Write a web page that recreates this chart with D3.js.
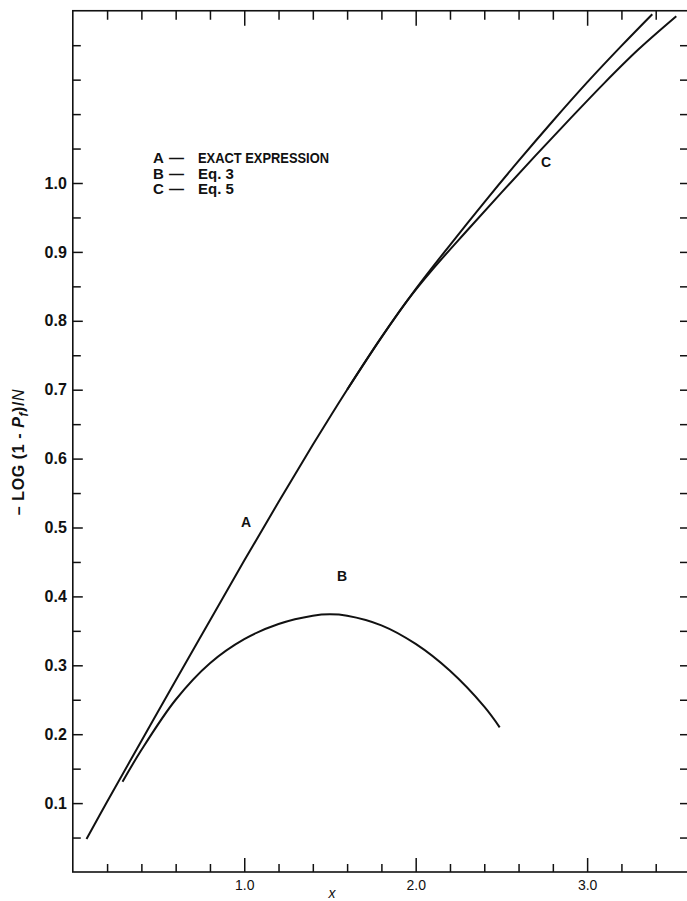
<!DOCTYPE html>
<html>
<head>
<meta charset="utf-8">
<script src="https://cdn.jsdelivr.net/npm/d3@7"></script>
<style>
  html, body { margin: 0; padding: 0; background: #fff; }
  svg { display: block; font-family: "Liberation Sans", Arial, sans-serif; }
</style>
</head>
<body>
<svg id="chart"></svg>
<script>
// curve A - exact expression
const xA = [0.08, 0.2, 0.4, 0.6, 0.8, 1.0, 1.2, 1.4, 1.6, 1.8, 2.0, 2.2, 2.4, 2.6, 2.8, 3.0, 3.2, 3.38];
const yA = [0.048, 0.102, 0.190, 0.278, 0.365, 0.452, 0.537, 0.620, 0.700, 0.776, 0.846, 0.910, 0.972, 1.032, 1.090, 1.146, 1.199, 1.245];

// curve B - Eq. 3
const xB = [0.29, 0.4, 0.6, 0.8, 1.0, 1.2, 1.4, 1.5, 1.6, 1.8, 2.0, 2.2, 2.4, 2.49];
const yB = [0.131, 0.177, 0.250, 0.303, 0.338, 0.360, 0.372, 0.374, 0.372, 0.358, 0.331, 0.292, 0.240, 0.210];

// curve C - Eq. 5 (runs on top of A below x = 2)
const xC = [1.6, 1.8, 1.95, 2.1, 2.3, 2.5, 2.7, 2.9, 3.1, 3.3, 3.52];
const yC = [0.700, 0.776, 0.829, 0.875, 0.931, 0.986, 1.040, 1.093, 1.145, 1.194, 1.242];

const xMajorTicks = [1.0, 2.0, 3.0];
const xMinorTicks = [0.2, 0.4, 0.6, 0.8, 1.2, 1.4, 1.6, 1.8, 2.2, 2.4, 2.6, 2.8, 3.2, 3.4];
const yLabelTicks = [0.1, 0.2, 0.3, 0.4, 0.5, 0.6, 0.7, 0.8, 0.9, 1.0];
const yMinorTicks = [0.05, 0.15, 0.25, 0.35, 0.45, 0.55, 0.65, 0.75, 0.85, 0.95, 1.05, 1.1, 1.15, 1.2];

const legendLines = [
  { key: "A", text: "EXACT EXPRESSION" },
  { key: "B", text: "Eq. 3" },
  { key: "C", text: "Eq. 5" },
];

const curveLabels = [
  { name: "A", x: 1.01, y: 0.508 },
  { name: "B", x: 1.57, y: 0.43 },
  { name: "C", x: 2.76, y: 1.03 },
];

const width = 687;
const height = 901;
const margin = { top: 10.75, right: -3, bottom: 29, left: 72.8 };

const svg = d3.select("#chart").attr("width", width).attr("height", height);

const x = d3.scaleLinear()
  .domain([0, 3.6])
  .range([margin.left, width - margin.right]);

const y = d3.scaleLinear()
  .domain([0, 1.25])
  .range([height - margin.bottom, margin.top]);

const x0 = x.range()[0], x1 = x.range()[1];
const y0 = y.range()[0], y1 = y.range()[1];

// frame
svg.append("rect")
  .attr("x", x0).attr("y", y1)
  .attr("width", x1 - x0).attr("height", y0 - y1)
  .attr("fill", "none")
  .attr("stroke", "#111")
  .attr("stroke-width", 1.6);

function tickStyle(g) {
  g.select(".domain").remove();
  g.selectAll(".tick line").attr("stroke", "#111").attr("stroke-width", 1.5);
}

// bottom axis
svg.append("g")
  .attr("transform", `translate(0,${y0})`)
  .call(d3.axisTop(x).tickValues(xMinorTicks).tickSize(8).tickFormat(""))
  .call(tickStyle);

svg.append("g")
  .attr("transform", `translate(0,${y0})`)
  .call(d3.axisBottom(x).tickValues(xMajorTicks).tickSize(0).tickPadding(8).tickFormat(d3.format(".1f")))
  .call(tickStyle)
  .selectAll("text")
  .attr("font-size", 14)
  .attr("fill", "#111");

svg.append("g")
  .attr("transform", `translate(0,${y0})`)
  .call(d3.axisTop(x).tickValues(xMajorTicks).tickSize(14).tickFormat(""))
  .call(tickStyle);

// top axis
svg.append("g")
  .attr("transform", `translate(0,${y1})`)
  .call(d3.axisBottom(x).tickValues(xMinorTicks).tickSize(9).tickFormat(""))
  .call(tickStyle);

svg.append("g")
  .attr("transform", `translate(0,${y1})`)
  .call(d3.axisBottom(x).tickValues(xMajorTicks).tickSize(15).tickFormat(""))
  .call(tickStyle);

// left axis
svg.append("g")
  .attr("transform", `translate(${x0},0)`)
  .call(d3.axisRight(y).tickValues(yMinorTicks).tickSize(8).tickFormat(""))
  .call(tickStyle);

svg.append("g")
  .attr("transform", `translate(${x0},0)`)
  .call(d3.axisRight(y).tickValues(yLabelTicks).tickSize(10).tickFormat(""))
  .call(tickStyle);

svg.append("g")
  .attr("transform", `translate(${x0},0)`)
  .call(d3.axisLeft(y).tickValues(yLabelTicks).tickSize(0).tickPadding(6).tickFormat(d3.format(".1f")))
  .call(tickStyle)
  .selectAll("text")
  .attr("font-size", 16)
  .attr("font-weight", "bold")
  .attr("fill", "#111");

// right axis
svg.append("g")
  .attr("transform", `translate(${x1},0)`)
  .call(d3.axisLeft(y).tickValues(yMinorTicks.concat(yLabelTicks)).tickSize(10).tickFormat(""))
  .call(tickStyle);

// curves
const line = d3.line()
  .x(d => x(d[0]))
  .y(d => y(d[1]))
  .curve(d3.curveCatmullRom.alpha(0.5));

const series = [
  d3.zip(xA, yA),
  d3.zip(xB, yB),
  d3.zip(xC, yC),
];

svg.append("g")
  .selectAll("path")
  .data(series)
  .join("path")
  .attr("d", line)
  .attr("fill", "none")
  .attr("stroke", "#111")
  .attr("stroke-width", 2)
  .attr("stroke-linejoin", "round");

// curve labels
svg.append("g")
  .selectAll("text")
  .data(curveLabels)
  .join("text")
  .attr("x", d => x(d.x))
  .attr("y", d => y(d.y))
  .attr("text-anchor", "middle")
  .attr("dy", "0.35em")
  .attr("font-size", 14)
  .attr("font-weight", "bold")
  .attr("fill", "#111")
  .text(d => d.name);

// legend
const legend = svg.append("g")
  .attr("transform", "translate(153,163)")
  .attr("font-size", 15)
  .attr("font-weight", "bold")
  .attr("fill", "#111");

const rows = legend.selectAll("g")
  .data(legendLines)
  .join("g")
  .attr("transform", (d, i) => `translate(0,${i * 15.5})`);

rows.append("text").text(d => d.key);
rows.append("text").attr("x", 16).text("\u2014");
rows.append("text")
  .attr("x", 45)
  .each(function (d, i) {
    if (i === 0) d3.select(this).attr("textLength", 131).attr("lengthAdjust", "spacingAndGlyphs");
  })
  .text(d => d.text);

// axis titles
svg.append("text")
  .attr("x", 332)
  .attr("y", 898)
  .attr("text-anchor", "middle")
  .attr("font-size", 14)
  .attr("font-style", "italic")
  .attr("fill", "#111")
  .text("x");

const ytitle = svg.append("text")
  .attr("transform", "translate(24,452) rotate(-90)")
  .attr("text-anchor", "middle")
  .attr("font-size", 16)
  .attr("font-weight", "bold")
  .attr("letter-spacing", 0.6)
  .attr("fill", "#111");

ytitle.append("tspan").text("\u2013 LOG (1 - ");
ytitle.append("tspan").attr("font-style", "italic").text("P");
ytitle.append("tspan").attr("font-size", 12).attr("dy", 4).attr("font-style", "italic").text("f");
ytitle.append("tspan").attr("dy", -4).text(")/");
ytitle.append("tspan").attr("font-style", "italic").attr("font-weight", "normal").text("N");
</script>
</body>
</html>
